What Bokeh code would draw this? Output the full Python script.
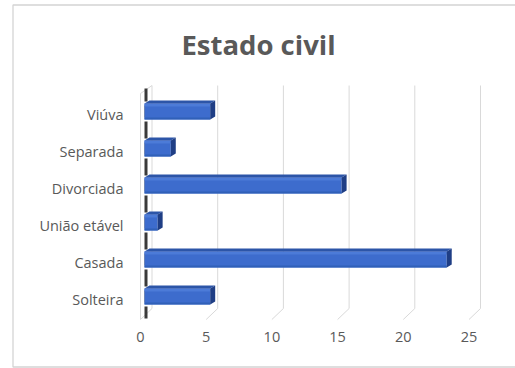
from bokeh.plotting import figure
from bokeh.models import Range1d, LinearAxis, FixedTicker
from bokeh.core.properties import value
from bokeh.embed import file_html
from bokeh.resources import INLINE

# ---- data ----
title_text = "Estado civil"
categories = ["Solteira", "Casada", "União etável", "Divorciada", "Separada", "Viúva"]
counts = [5, 23, 1, 15, 2, 5]
x_ticks = [0, 5, 10, 15, 20, 25]

# ---- layout constants (pixels) ----
W, H = 515, 368
FL, FR, FT, FB = 11, 515, 3, 368      # frame edges
X0_PX, SX = 144.0, 13.14               # px of value 0, px per unit
Y0_PX, SY = 296.0, 37.0                # px of first category, px per category


def px2x(px):
    return (px - X0_PX) / SX


def px2y(py):
    return (Y0_PX - py) / SY


x_start, x_end = px2x(FL), px2x(FR)
y_start, y_end = px2y(FB), px2y(FT)

p = figure(width=W, height=H,
           x_range=Range1d(x_start, x_end), y_range=Range1d(y_start, y_end),
           x_axis_type=None, y_axis_type=None,
           toolbar_location=None, output_backend="svg",
           min_border_left=FL, min_border_right=0, min_border_top=FT, min_border_bottom=0)
p.title.visible = False
p.outline_line_color = None
p.background_fill_color = "white"
p.border_fill_color = "white"
p.xgrid.visible = False
p.ygrid.visible = False

# shifted ranges for the front-plane labels (3D projection)
p.extra_x_ranges = {"front": Range1d(x_start + 4 / SX, x_end + 4 / SX)}
p.extra_y_ranges = {"lab": Range1d(y_start + 3 / SY, y_end + 3 / SY)}

# chart border
p.quad(left=[px2x(12.5)], right=[x_end + 1], top=[px2y(4.5)], bottom=[px2y(366.5)],
       fill_color=None, line_color="#d4d4d4", line_width=1.3)

# back-wall gridlines and floor diagonals
n = len(x_ticks)
back = [v + 7.5 / SX for v in x_ticks]
front = [v - 4 / SX for v in x_ticks]
p.segment(x0=back, y0=[px2y(85)] * n, x1=back, y1=[px2y(308)] * n,
          line_color="#d9d9d9", line_width=1)
p.segment(x0=back, y0=[px2y(308)] * n, x1=front, y1=[px2y(319)] * n,
          line_color="#d9d9d9", line_width=1)
# side wall front edge
p.segment(x0=[front[0], front[0]], y0=[px2y(319), px2y(93)],
          x1=[front[0], back[0]], y1=[px2y(93), px2y(85)],
          line_color="#d9d9d9", line_width=1)

# dark left-end strip of the 3D bars
h = 16 / SY
sy0, sy1 = [], []
xs_strip = px2x(145.5)
for i in range(len(categories)):
    sy0.append(i - h / 2 + 2 / SY)
    sy1.append(i + h / 2 - 2 / SY)
    top_gap_end = i + 0.5 + (0.5 - h / 2) - 2 / SY if i < len(categories) - 1 else px2y(88)
    sy0.append(i + h / 2 + 2 / SY)
    sy1.append(top_gap_end)
sy0.append(px2y(318))
sy1.append(0 - h / 2 - 2 / SY)
p.segment(x0=[xs_strip] * len(sy0), y0=sy0, x1=[xs_strip] * len(sy0), y1=sy1,
          line_color="#3a3a3a", line_width=3)

# 3D bars
dx, dy = 5 / SX, 3 / SY
idx = list(range(len(categories)))
tops = [i + h / 2 for i in idx]
bots = [i - h / 2 for i in idx]
p.quad(left=[0] * len(counts), right=counts, bottom=bots, top=tops,
       fill_color="#3d6ccd", line_color=None)
p.quad(left=[0] * len(counts), right=counts, bottom=[t - 3 / SY for t in tops], top=tops,
       fill_color="#4c7bd8", line_color=None)
p.quad(left=[0] * len(counts), right=counts, bottom=bots, top=[b + 2 / SY for b in bots],
       fill_color="#3060b8", line_color=None)
p.patches(xs=[[0, v, v + dx, dx] for v in counts],
          ys=[[t, t, t + dy, t + dy] for t in tops],
          fill_color="#2c55a8", line_color=None)
p.patches(xs=[[v, v + dx, v + dx, v] for v in counts],
          ys=[[t, t + dy, b + dy, b] for t, b in zip(tops, bots)],
          fill_color="#1f3e85", line_color=None)

# axes
xaxis = LinearAxis(x_range_name="front", ticker=FixedTicker(ticks=x_ticks),
                   fixed_location=px2y(330),
                   axis_line_color=None, major_tick_line_color=None, minor_tick_line_color=None,
                   major_tick_in=0, major_tick_out=0, major_label_standoff=1,
                   major_label_text_font="Open Sans", major_label_text_font_size="14.5px",
                   major_label_text_color="#595959")
p.add_layout(xaxis, "below")

yaxis = LinearAxis(y_range_name="lab", ticker=FixedTicker(ticks=idx),
                   major_label_overrides={i: c for i, c in zip(idx, categories)},
                   fixed_location=px2x(125),
                   axis_line_color=None, major_tick_line_color=None, minor_tick_line_color=None,
                   major_tick_in=0, major_tick_out=0, major_label_standoff=2,
                   major_label_text_font="Open Sans", major_label_text_font_size="14.5px",
                   major_label_text_color="#595959")
p.add_layout(yaxis, "left")

# title
p.text(x=[px2x(258)], y=[px2y(44)], text=[title_text],
       text_font=value("Open Sans"), text_font_style="bold", text_font_size="27.5px",
       text_color="#595959", text_align="center", text_baseline="middle")

open("out.html", "w").write(file_html(p, INLINE))
